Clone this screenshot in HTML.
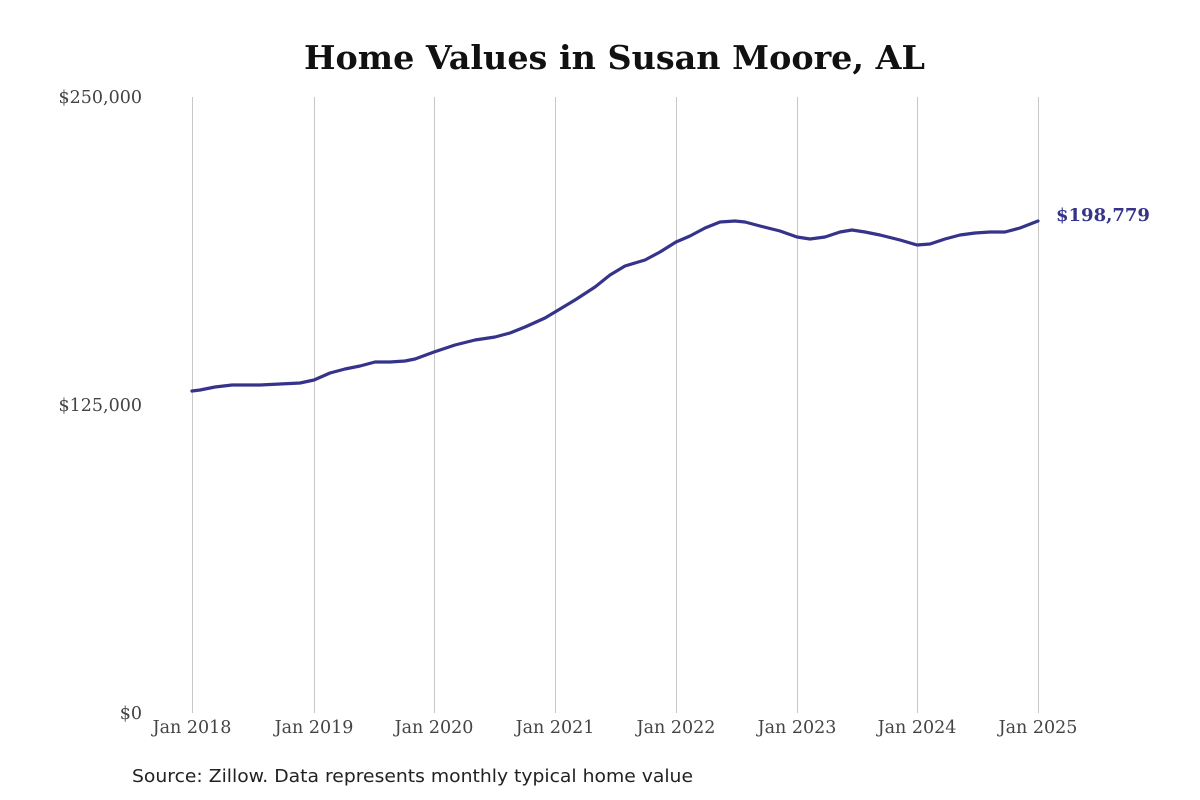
<!DOCTYPE html>
<html><head><meta charset="utf-8"><style>
html,body{margin:0;padding:0;background:#fff;width:1200px;height:800px;overflow:hidden}
svg{display:block}
text{font-family:"DejaVu Serif","Liberation Serif",serif}
</style></head><body>
<svg width="1200" height="800" viewBox="0 0 1200 800">
<text x="304" y="69" font-size="33" font-weight="bold" fill="#111" textLength="621" lengthAdjust="spacingAndGlyphs">Home Values in Susan Moore, AL</text>
<g stroke="#c8c8c8" stroke-width="1">
<line x1="192.5" y1="97" x2="192.5" y2="713"/>
<line x1="314.5" y1="97" x2="314.5" y2="713"/>
<line x1="434.5" y1="97" x2="434.5" y2="713"/>
<line x1="555.5" y1="97" x2="555.5" y2="713"/>
<line x1="676.5" y1="97" x2="676.5" y2="713"/>
<line x1="797.5" y1="97" x2="797.5" y2="713"/>
<line x1="917.5" y1="97" x2="917.5" y2="713"/>
<line x1="1038.5" y1="97" x2="1038.5" y2="713"/>
</g>
<g font-size="17.5" fill="#444" text-anchor="end">
<text x="142" y="103">$250,000</text>
<text x="142" y="411">$125,000</text>
<text x="142" y="719">$0</text>
</g>
<g font-size="17.5" fill="#444" text-anchor="middle">
<text x="192" y="733">Jan 2018</text>
<text x="314" y="733">Jan 2019</text>
<text x="434" y="733">Jan 2020</text>
<text x="555" y="733">Jan 2021</text>
<text x="676" y="733">Jan 2022</text>
<text x="797" y="733">Jan 2023</text>
<text x="917" y="733">Jan 2024</text>
<text x="1038" y="733">Jan 2025</text>
</g>
<polyline fill="none" stroke="#35338a" stroke-width="3.2" stroke-linejoin="round" stroke-linecap="round"
points="192,391 200,390 215,387 232,385 260,385 280,384 300,383 314,380 330,373 345,369 360,366 375,362 390,362 405,361 415,359 434,352 455,345 475,340 495,337 510,333 525,327 545,318 555,312 575,300 595,287 610,275 625,266 645,260 660,252 676,242 690,236 705,228 720,222 735,221 745,222 760,226 780,231 797,237 810,239 825,237 840,232 852,230 865,232 880,235 900,240 917,245 930,244 945,239 960,235 975,233 990,232 1005,232 1020,228 1038,221"/>
<text x="1056" y="221" font-size="18" font-weight="bold" fill="#35338a">$198,779</text>
<text x="132" y="782" font-size="18" fill="#222" textLength="561" lengthAdjust="spacingAndGlyphs" style="font-family:'DejaVu Sans','Liberation Sans',sans-serif">Source: Zillow. Data represents monthly typical home value</text>
</svg>
</body></html>
